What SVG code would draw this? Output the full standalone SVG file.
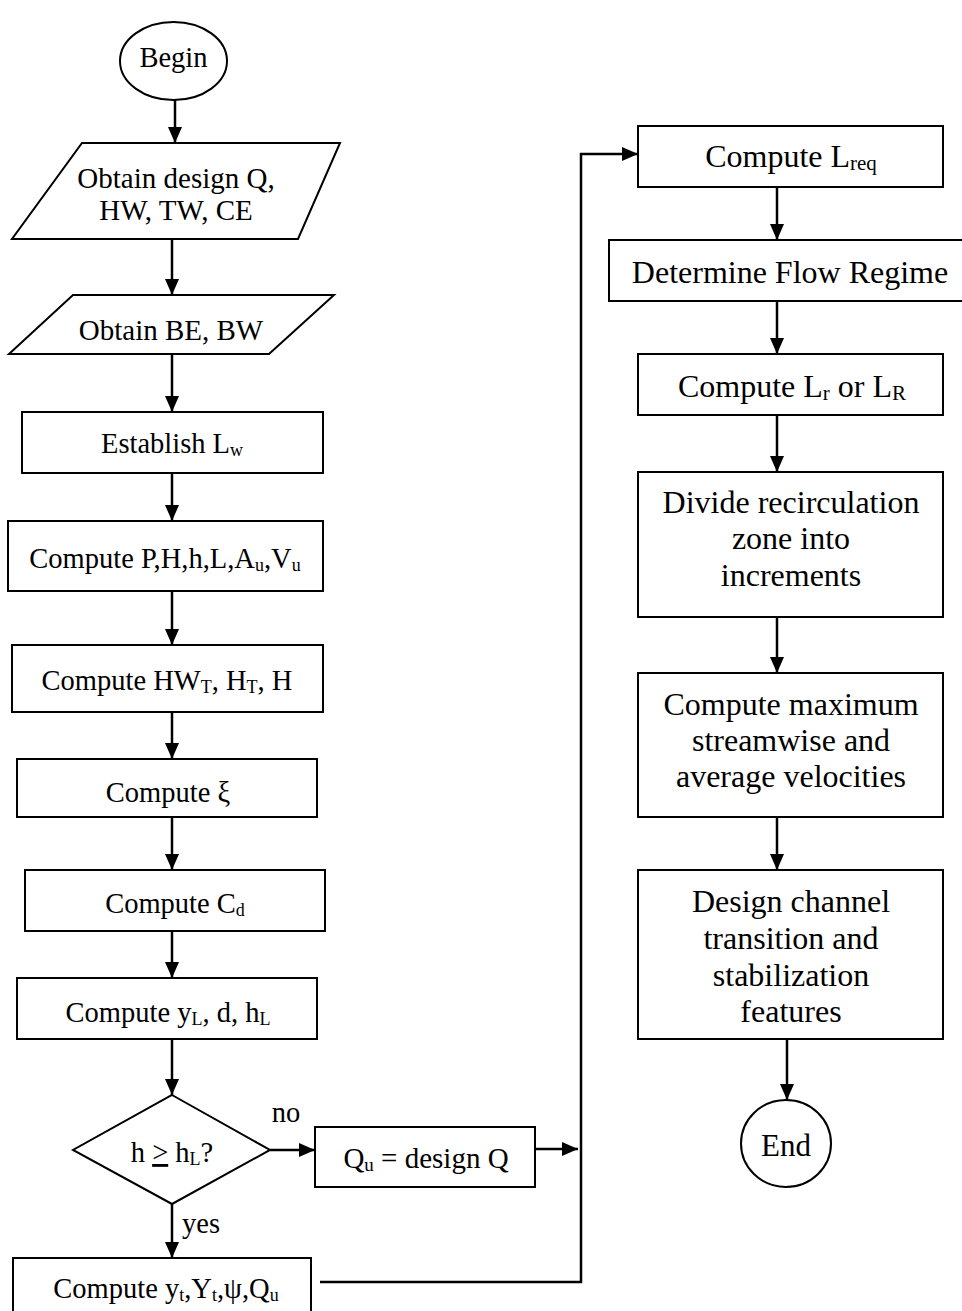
<svg xmlns="http://www.w3.org/2000/svg" width="962" height="1311" viewBox="0 0 962 1311">
<style>
.s{fill:#fff;stroke:#000;stroke-width:2}
.t{font-family:"Liberation Serif","Times New Roman",serif;fill:#000;text-anchor:middle}
.l{font-size:28.5px}
.r{font-size:32px}
.c{fill:none;stroke:#000;stroke-width:2.5}
</style>
<defs>
<marker id="ah" markerUnits="userSpaceOnUse" viewBox="0 0 16 14" refX="16" refY="7" markerWidth="16" markerHeight="14" orient="auto">
<path d="M0,0 L16,7 L0,14 z" fill="#000"/>
</marker>
</defs>
<rect width="962" height="1311" fill="#fff"/>
<g id="connectors">
<line class="c" x1="175" y1="100" x2="175" y2="143" marker-end="url(#ah)"/>
<line class="c" x1="172" y1="239" x2="172" y2="295" marker-end="url(#ah)"/>
<line class="c" x1="172" y1="354" x2="172" y2="412" marker-end="url(#ah)"/>
<line class="c" x1="172" y1="473" x2="172" y2="521" marker-end="url(#ah)"/>
<line class="c" x1="172" y1="591" x2="172" y2="645" marker-end="url(#ah)"/>
<line class="c" x1="172" y1="712" x2="172" y2="759" marker-end="url(#ah)"/>
<line class="c" x1="172" y1="817" x2="172" y2="870" marker-end="url(#ah)"/>
<line class="c" x1="172" y1="931" x2="172" y2="978" marker-end="url(#ah)"/>
<line class="c" x1="172" y1="1039" x2="172" y2="1095" marker-end="url(#ah)"/>
<line class="c" x1="270" y1="1150" x2="315" y2="1150" marker-end="url(#ah)"/>
<line class="c" x1="172" y1="1204" x2="172" y2="1258" marker-end="url(#ah)"/>
<line class="c" x1="535" y1="1149" x2="578" y2="1149" marker-end="url(#ah)"/>
<polyline class="c" points="320,1282 581,1282 581,154 638,154" marker-end="url(#ah)"/>
<line class="c" x1="777" y1="187" x2="777" y2="240" marker-end="url(#ah)"/>
<line class="c" x1="777" y1="301" x2="777" y2="354" marker-end="url(#ah)"/>
<line class="c" x1="777" y1="415" x2="777" y2="472" marker-end="url(#ah)"/>
<line class="c" x1="777" y1="617" x2="777" y2="673" marker-end="url(#ah)"/>
<line class="c" x1="777" y1="817" x2="777" y2="870" marker-end="url(#ah)"/>
<line class="c" x1="787" y1="1039" x2="787" y2="1100" marker-end="url(#ah)"/>
<text class="t l" x="286" y="1122">no</text>
<text class="t l" x="201" y="1233">yes</text>
</g>
<g id="begin">
<ellipse class="s" cx="173.5" cy="61" rx="53.5" ry="39"/>
<text class="t l" x="173.5" y="67">Begin</text>
</g>
<g id="obtain1">
<polygon class="s" points="82,143 340,143 298,239 12,239"/>
<text class="t" font-size="29" x="176" y="188">Obtain design Q,</text>
<text class="t" font-size="29" x="176" y="220">HW, TW, CE</text>
</g>
<g id="obtain2">
<polygon class="s" points="73,295 334,295 269,354 9,354"/>
<text class="t" font-size="29" x="171" y="340">Obtain BE, BW</text>
</g>
<g id="establish">
<rect class="s" x="22" y="412" width="301" height="61"/>
<text class="t l" x="172" y="453">Establish L<tspan font-size="18" dy="3">w</tspan></text>
</g>
<g id="computeP">
<rect class="s" x="8" y="521" width="315" height="70"/>
<text class="t l" x="165" y="568">Compute P,H,h,L,A<tspan font-size="18" dy="3">u</tspan><tspan dy="-3">,V</tspan><tspan font-size="18" dy="3">u</tspan></text>
</g>
<g id="computeHW">
<rect class="s" x="12" y="645" width="311" height="67"/>
<text class="t l" x="167" y="690">Compute HW<tspan font-size="18" dy="3">T</tspan><tspan dy="-3">, H</tspan><tspan font-size="18" dy="3">T</tspan><tspan dy="-3">, H</tspan></text>
</g>
<g id="computeXi">
<rect class="s" x="17" y="759" width="300" height="58"/>
<text class="t l" x="168" y="802">Compute ξ</text>
</g>
<g id="computeCd">
<rect class="s" x="25" y="870" width="300" height="61"/>
<text class="t l" x="175" y="913">Compute C<tspan font-size="18" dy="3">d</tspan></text>
</g>
<g id="computeYL">
<rect class="s" x="17" y="978" width="300" height="61"/>
<text class="t l" x="168" y="1022">Compute y<tspan font-size="18" dy="3">L</tspan><tspan dy="-3">, d, h</tspan><tspan font-size="18" dy="3">L</tspan></text>
</g>
<g id="decision">
<polygon class="s" points="172,1095 270,1150 172,1204 73,1150"/>
<text class="t l" x="172" y="1162">h <tspan text-decoration="underline">&gt;</tspan> h<tspan font-size="18" dy="3">L</tspan><tspan dy="-3">?</tspan></text>
</g>
<g id="qu">
<rect class="s" x="315" y="1127" width="220" height="60"/>
<text class="t" font-size="29" x="426" y="1168">Q<tspan font-size="19" dy="3">u</tspan><tspan dy="-3"> = design Q</tspan></text>
</g>
<g id="computeYt">
<rect class="s" x="13" y="1258" width="298" height="60"/>
<text class="t l" x="166" y="1298">Compute y<tspan font-size="18" dy="3">t</tspan><tspan dy="-3">,Y</tspan><tspan font-size="18" dy="3">t</tspan><tspan dy="-3">,ψ,Q</tspan><tspan font-size="18" dy="3">u</tspan></text>
</g>
<g id="computeLreq">
<rect class="s" x="638" y="126" width="305" height="61"/>
<text class="t r" x="791" y="167">Compute L<tspan font-size="21" dy="3">req</tspan></text>
</g>
<g id="regime">
<rect class="s" x="609" y="240" width="360" height="61"/>
<text class="t r" x="790" y="283">Determine Flow Regime</text>
</g>
<g id="computeLr">
<rect class="s" x="638" y="354" width="305" height="61"/>
<text class="t r" x="792" y="397">Compute L<tspan font-size="21" dy="3">r</tspan><tspan dy="-3"> or L</tspan><tspan font-size="21" dy="3">R</tspan></text>
</g>
<g id="divide">
<rect class="s" x="638" y="472" width="305" height="145"/>
<text class="t r" x="791" y="513">Divide recirculation</text>
<text class="t r" x="791" y="549">zone into</text>
<text class="t r" x="791" y="586">increments</text>
</g>
<g id="velocities">
<rect class="s" x="638" y="673" width="305" height="144"/>
<text class="t r" x="791" y="715">Compute maximum</text>
<text class="t r" x="791" y="751">streamwise and</text>
<text class="t r" x="791" y="787">average velocities</text>
</g>
<g id="design">
<rect class="s" x="638" y="870" width="305" height="169"/>
<text class="t r" x="791" y="912">Design channel</text>
<text class="t r" x="791" y="949">transition and</text>
<text class="t r" x="791" y="986">stabilization</text>
<text class="t r" x="791" y="1022">features</text>
</g>
<g id="end">
<ellipse class="s" cx="786" cy="1143.5" rx="45" ry="43.5"/>
<text class="t" font-size="31" x="786" y="1156">End</text>
</g>
</svg>
